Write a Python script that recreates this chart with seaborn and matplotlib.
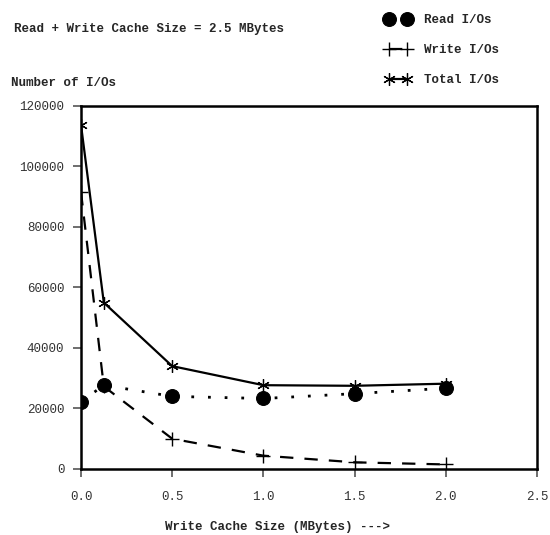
import matplotlib
matplotlib.use("Agg")
import matplotlib.pyplot as plt
import seaborn as sns
import pandas as pd

# Cache split data: write cache size (MB) vs. number of I/Os
write_cache_mb = [0.0, 0.125, 0.5, 1.0, 1.5, 2.0]
read_ios = [22200, 27700, 24000, 23300, 24900, 26700]
write_ios = [91500, 27300, 10000, 4400, 2200, 1500]
total_ios = [113700, 55000, 34000, 27700, 27500, 28200]

x_ticks = [0.0, 0.5, 1.0, 1.5, 2.0, 2.5]
y_ticks = [0, 20000, 40000, 60000, 80000, 100000, 120000]

sns.set_theme(style="white")
plt.rcParams["font.family"] = ["Liberation Mono", "DejaVu Sans Mono"]

fig = plt.figure(figsize=(5.5, 5.35), dpi=100)
ax = fig.add_axes([0.1473, 0.1234, 0.8290, 0.6785])

df = pd.DataFrame({"x": write_cache_mb, "read": read_ios,
                   "write": write_ios, "total": total_ios})

sns.lineplot(data=df, x="x", y="total", ax=ax, color="black",
             linestyle="-", linewidth=1.6, marker=(6, 2, 0),
             markersize=9, markeredgewidth=0.9, markeredgecolor="black",
             label="Total I/Os")
sns.lineplot(data=df, x="x", y="write", ax=ax, color="black",
             linestyle=(0, (6, 5)), linewidth=1.6, marker="+",
             markersize=10, markeredgewidth=1.0, markeredgecolor="black",
             label="Write I/Os")
sns.lineplot(data=df, x="x", y="read", ax=ax, color="black",
             linestyle=(0, (1, 5)), linewidth=2.0, marker="o",
             markersize=10, markeredgecolor="black",
             label="Read I/Os")

ax.set_xlim(0, 2.5)
ax.set_ylim(0, 120000)
ax.set_xticks(x_ticks)
ax.set_xticklabels([f"{v:.1f}" for v in x_ticks])
ax.set_yticks(y_ticks)
ax.set_yticklabels([str(v) for v in y_ticks])
ax.tick_params(axis="both", direction="out", length=6, width=1.2,
               color="#555555", labelcolor="#333333", labelsize=9,
               bottom=True, left=True, pad=6)
ax.tick_params(axis="x", pad=10)
for sp in ax.spines.values():
    sp.set_color("black")
    sp.set_linewidth(1.8)
ax.grid(False)

ax.set_xlabel("")
ax.set_ylabel("")
ax.get_legend().remove()

fig.text(0.505, 0.015, "Write Cache Size (MBytes) --->", fontsize=9,
         fontweight="bold", va="center", ha="center")
fig.text(0.025, 0.946, "Read + Write Cache Size = 2.5 MBytes",
         fontsize=9, fontweight="bold", va="center", ha="left")
fig.text(0.02, 0.845, "Number of I/Os", fontsize=9,
         fontweight="bold", va="center", ha="left")

handles, labels = ax.get_legend_handles_labels()
order = [labels.index(l) for l in ["Read I/Os", "Write I/Os", "Total I/Os"]]
fig.legend([handles[i] for i in order], [labels[i] for i in order],
           loc="upper left", bbox_to_anchor=(0.68, 0.995),
           numpoints=2, handlelength=2.0, handletextpad=1.1,
           labelspacing=1.45, frameon=False,
           prop={"family": "Liberation Mono", "weight": "bold", "size": 9})

fig.savefig("out.png", dpi=100)
